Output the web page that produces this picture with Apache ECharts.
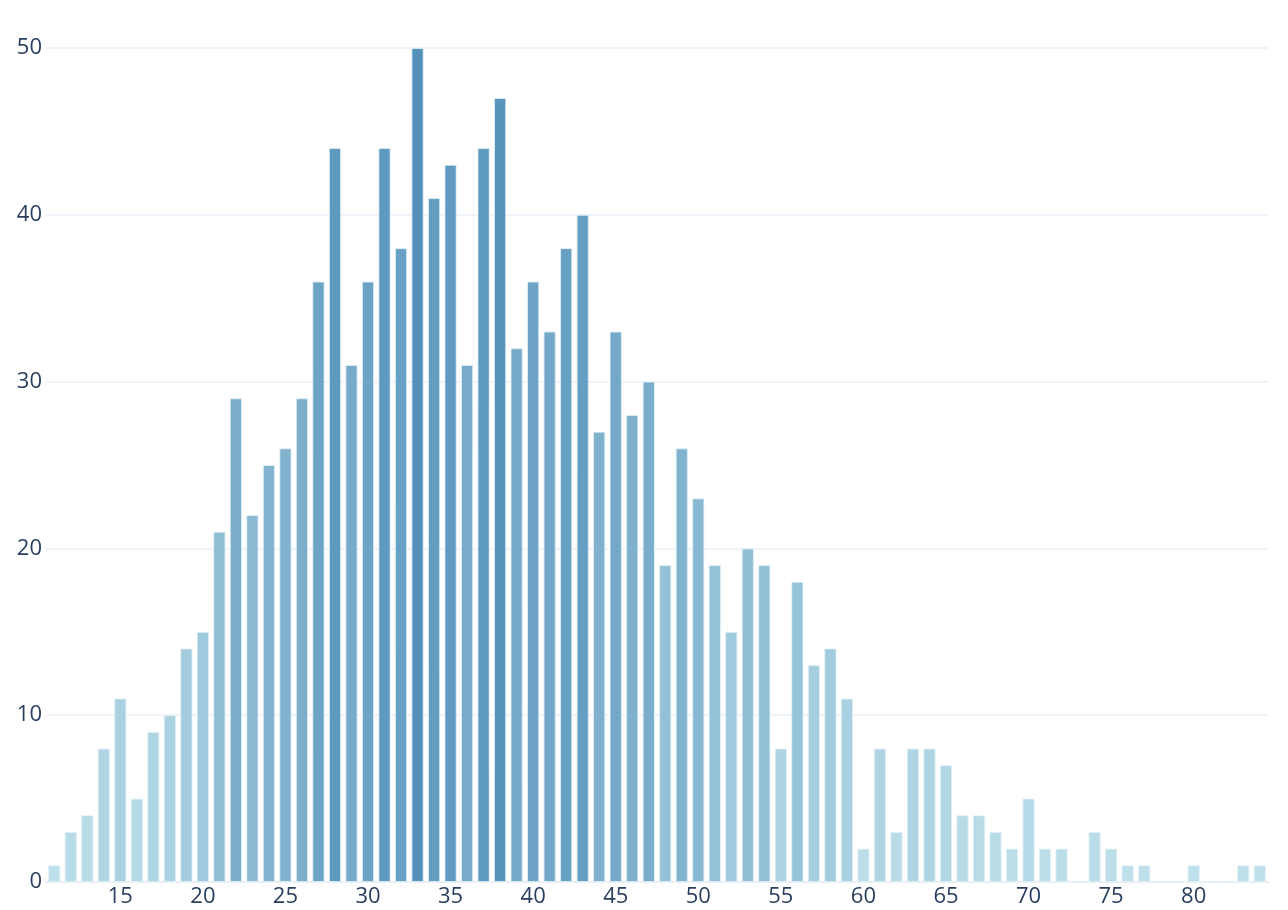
<!DOCTYPE html>
<html>
<head>
<meta charset="utf-8">
<script src="https://cdn.jsdelivr.net/npm/echarts@6/dist/echarts.min.js"></script>
<style>html,body{margin:0;padding:0;background:#fff}#c{width:1288px;height:910px}</style>
</head>
<body>
<div id="c"></div>
<script>
const categories = [];
for (let v = 11; v <= 84; v++) categories.push(String(v));
const counts = [1,3,4,8,11,5,9,10,14,15,21,29,22,25,26,29,36,44,31,36,44,38,50,41,43,31,44,47,32,36,33,38,40,27,33,28,30,19,26,23,19,15,20,19,8,18,13,14,11,2,8,3,8,8,7,4,4,3,2,5,2,2,0,3,2,1,1,0,0,1,0,0,1,1];
const yTicks = [0,10,20,30,40,50];

const chart = echarts.init(document.getElementById('c'), null, {renderer:'canvas'});
chart.setOption({
  animation:false,
  backgroundColor:'#fff',
  grid:{left:46, right:20, top:48, bottom:28, containLabel:false},
  visualMap:{show:false, type:'continuous', min:0, max:50, dimension:1,
    inRange:{color:['#bfe1eb','#a6cfe0','#84b4cf','#6aa2c4','#5390ba']}},
  xAxis:{type:'category', data:categories, boundaryGap:true,
    axisLine:{show:true, lineStyle:{color:'#ebf0f8', width:2}},
    axisTick:{show:false},
    axisLabel:{color:'#2a3f5f', fontFamily:'Open Sans', fontSize:22, margin:4,
      interval:function(i,v){return Number(v)%5===0;}},
    splitLine:{show:false}},
  yAxis:{type:'value', min:0, max:50, interval:10,
    axisLine:{show:false}, axisTick:{show:false},
    axisLabel:{color:'#2a3f5f', fontFamily:'Open Sans', fontSize:22, margin:4,
      formatter:function(v){return yTicks.indexOf(v)>=0?String(v):'';}},
    splitLine:{lineStyle:{color:'#ebf0f8', width:1.5}}},
  series:[{type:'bar', data:counts, barCategoryGap:'26%',
    itemStyle:{borderColor:'rgba(225,240,246,0.8)', borderWidth:1}}]
});
</script>
</body>
</html>
